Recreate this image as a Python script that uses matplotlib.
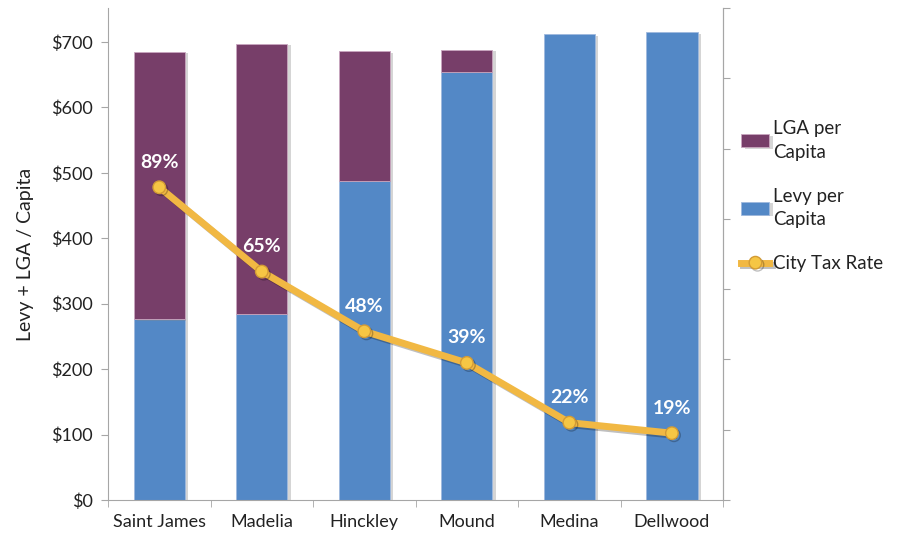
import matplotlib.pyplot as plt
import matplotlib.patheffects as pe
import numpy as np

# City levy / LGA per capita with city tax rate overlay
cities = ["Saint James", "Madelia", "Hinckley", "Mound", "Medina", "Dellwood"]
levy_per_capita = [276, 285, 488, 655, 712, 715]
lga_per_capita = [409, 412, 198, 33, 0, 0]
city_tax_rate = [0.89, 0.65, 0.48, 0.39, 0.22, 0.19]
rate_labels = ["89%", "65%", "48%", "39%", "22%", "19%"]

blue = "#5388c6"
purple = "#773e69"
gold = "#f1b843"
grey = "#a6a6a6"
text_c = "#222222"

plt.rcParams["font.family"] = ["Lato", "DejaVu Sans"]

fig = plt.figure(figsize=(9.06, 5.37), dpi=100)
ax = fig.add_axes([0.1192, 0.069, 0.679, 0.916])
x = np.arange(len(cities))

shadow = [pe.SimplePatchShadow(offset=(2.5, -1), alpha=0.35, shadow_rgbFace="#888888"), pe.Normal()]
b1 = ax.bar(x, levy_per_capita, width=0.5, color=blue, edgecolor="#9fb9de", linewidth=0.6,
            label="Levy per\nCapita", zorder=2)
b2 = ax.bar(x, lga_per_capita, width=0.5, bottom=levy_per_capita, color=purple,
            edgecolor="#c9a6bf", linewidth=0.6, label="LGA per\nCapita", zorder=2)
for r in list(b1) + list(b2):
    if r.get_height() > 0:
        r.set_path_effects(shadow)
    else:
        r.set_visible(False)

ax.set_xlim(-0.5, len(cities) - 0.5)
ax.set_ylim(0, 752)
ax.set_yticks(range(0, 800, 100))
ax.set_yticklabels([f"${v}" for v in range(0, 800, 100)], fontsize=13, color=text_c)
ax.set_xticks(x)
ax.set_xticklabels(cities, fontsize=13, color=text_c)
ax.set_xticks(np.arange(-0.5, len(cities), 1), minor=True)
ax.tick_params(axis="x", which="major", length=0, pad=10)
ax.tick_params(axis="x", which="minor", length=5, color=grey)
ax.tick_params(axis="y", length=5, color=grey, pad=6)
ax.set_ylabel("Levy + LGA / Capita", fontsize=14, color=text_c, labelpad=12)
for s in ["left", "bottom", "right"]:
    ax.spines[s].set_color(grey)
ax.spines["top"].set_visible(False)

# tax rate on a secondary axis (no labels)
ax2 = ax.twinx()
ax2.set_ylim(0, 1.4)
ax2.set_yticks(np.arange(0, 1.41, 0.2))
ax2.set_yticklabels([])
ax2.tick_params(axis="y", length=5, color=grey)
for s in ["left", "bottom", "top"]:
    ax2.spines[s].set_visible(False)
ax2.spines["right"].set_color(grey)

line_fx = [pe.SimpleLineShadow(offset=(1.5, -1.5), alpha=0.25), pe.Normal()]
ln, = ax2.plot(x, city_tax_rate, color=gold, linewidth=5, marker="o", markersize=9,
               markerfacecolor="#f6c644", markeredgecolor="#d39b35", markeredgewidth=1,
               label="City Tax Rate", zorder=3, path_effects=line_fx)
for xi, yi, lab in zip(x, city_tax_rate, rate_labels):
    ax2.annotate(lab, (xi, yi), xytext=(0, 12), textcoords="offset points", ha="center",
                 va="bottom", fontsize=14, fontweight="bold", color="white")

leg = fig.legend([b2, b1, ln], ["LGA per\nCapita", "Levy per\nCapita", "City Tax Rate"],
                 loc="upper left", bbox_to_anchor=(0.81, 0.79), frameon=False,
                 fontsize=13.5, handlelength=1.5, handletextpad=0.2, labelspacing=1.45,
                 borderaxespad=0)
for t in leg.get_texts():
    t.set_color(text_c)
    t.set_linespacing(1.45)

fig.savefig("out.png", dpi=100)
